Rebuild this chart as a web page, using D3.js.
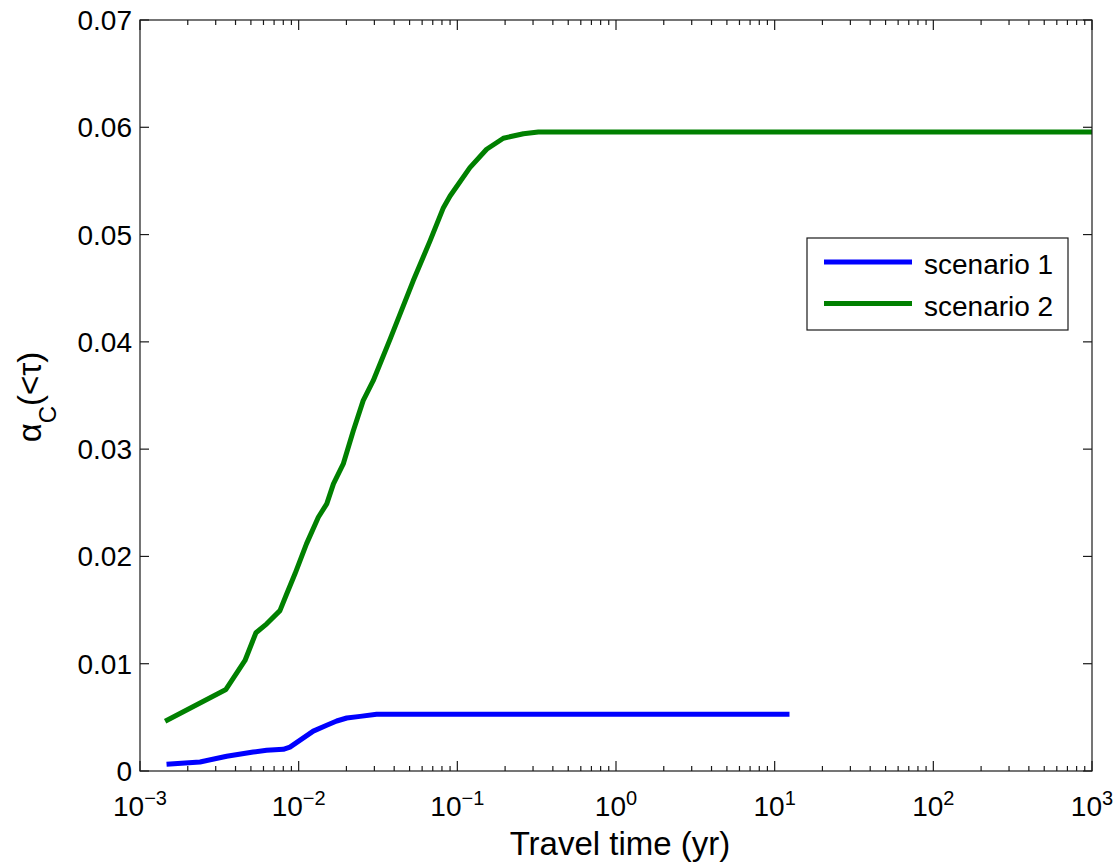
<!DOCTYPE html>
<html>
<head>
<meta charset="utf-8">
<script src="https://cdn.jsdelivr.net/npm/d3@7"></script>
<style>
  body { margin: 0; background: white; }
  text { font-family: "Liberation Sans", Arial, Helvetica, sans-serif; }
</style>
</head>
<body>
<div id="container"></div>
<script>
let w = 1118;
let h = 865;

// data
let scenarioNames = ["scenario 1", "scenario 2"];
let scenarioColors = ["#0000ff", "#008000"];

let s1Time = [0.00147, 0.00239, 0.00352, 0.00517, 0.00628, 0.0080, 0.00881, 0.01236, 0.01502, 0.01737, 0.0201, 0.0244, 0.0310, 12.4];
let s1Value = [0.00062, 0.00084, 0.00137, 0.00177, 0.00193, 0.00202, 0.00223, 0.00372, 0.00426, 0.00466, 0.00494, 0.00509, 0.00528, 0.00528];

let s2Time = [0.00144, 0.00348, 0.00459, 0.00538, 0.00629, 0.00762, 0.0084, 0.00948, 0.0112, 0.0133, 0.01503, 0.01656, 0.0191, 0.0221, 0.0255, 0.0295, 0.0377, 0.0527, 0.0673, 0.0817, 0.0900, 0.120, 0.153, 0.195, 0.261, 0.324, 1000];
let s2Value = [0.00463, 0.0076, 0.0103, 0.01289, 0.01372, 0.01495, 0.0165, 0.01838, 0.02117, 0.02365, 0.0249, 0.02676, 0.02862, 0.03172, 0.03452, 0.03638, 0.04026, 0.04569, 0.04941, 0.05251, 0.0536, 0.05624, 0.05795, 0.05898, 0.0594, 0.05956, 0.05956];

let yTicks = [0, 0.01, 0.02, 0.03, 0.04, 0.05, 0.06, 0.07];
let xDecades = [-3, -2, -1, 0, 1, 2, 3];

let pLeft = 140, pRight = 1092, pTop = 20, pBottom = 771;

let viz = d3.select("#container")
  .append("svg")
    .attr("width", w)
    .attr("height", h)
    .style("background-color", "white")
;

let x = d3.scaleLog().domain([1e-3, 1e3]).range([pLeft, pRight]);
let y = d3.scaleLinear().domain([0, 0.07]).range([pBottom, pTop]);

// minor ticks on the log axis
let minorTicks = [];
xDecades.slice(0, -1).forEach(function(e){
  for (let k = 2; k <= 9; k++) minorTicks.push(k * Math.pow(10, e));
});
let majorTicks = xDecades.map(e => Math.pow(10, e));

let axisColor = "#1a1a1a";

function drawXTicks(yPos, dir){
  viz.selectAll(null)
    .data(minorTicks)
    .enter()
    .append("line")
      .attr("x1", d => x(d)).attr("x2", d => x(d))
      .attr("y1", yPos).attr("y2", yPos + dir * 5)
      .style("stroke", axisColor)
      .style("stroke-width", 1.2)
  ;
  viz.selectAll(null)
    .data(majorTicks)
    .enter()
    .append("line")
      .attr("x1", d => x(d)).attr("x2", d => x(d))
      .attr("y1", yPos).attr("y2", yPos + dir * 10)
      .style("stroke", axisColor)
      .style("stroke-width", 1.2)
  ;
}
drawXTicks(pBottom, -1);
drawXTicks(pTop, 1);

function drawYTicks(xPos, dir){
  viz.selectAll(null)
    .data(yTicks)
    .enter()
    .append("line")
      .attr("x1", xPos).attr("x2", xPos + dir * 9)
      .attr("y1", d => y(d)).attr("y2", d => y(d))
      .style("stroke", axisColor)
      .style("stroke-width", 1.2)
  ;
}
drawYTicks(pLeft, 1);
drawYTicks(pRight, -1);

// lines
let line = d3.line()
  .x(d => x(d[0]))
  .y(d => y(d[1]))
;

let series = [
  d3.zip(s1Time, s1Value),
  d3.zip(s2Time, s2Value)
];

viz.selectAll(".series")
  .data(series)
  .enter()
  .append("path")
    .attr("class", "series")
    .attr("d", line)
    .attr("fill", "none")
    .style("stroke", (d, i) => scenarioColors[i])
    .style("stroke-width", 5)
    .style("stroke-linejoin", "round")
;

// box
viz.append("rect")
    .attr("x", pLeft)
    .attr("y", pTop)
    .attr("width", pRight - pLeft)
    .attr("height", pBottom - pTop)
    .attr("fill", "none")
    .style("stroke", axisColor)
    .style("stroke-width", 1.2)
;

// y tick labels
viz.selectAll(".ylab")
  .data(yTicks)
  .enter()
  .append("text")
    .attr("class", "ylab")
    .text(d => d === 0 ? "0" : d.toFixed(2))
    .attr("x", pLeft - 8)
    .attr("y", d => y(d) + 10)
    .attr("text-anchor", "end")
    .attr("fill", "black")
    .style("font-size", "28px")
;

// x tick labels 10^n
let xLab = viz.selectAll(".xlab")
  .data(xDecades)
  .enter()
  .append("text")
    .attr("class", "xlab")
    .attr("x", d => x(Math.pow(10, d)))
    .attr("y", 816)
    .attr("text-anchor", "middle")
    .attr("fill", "black")
    .style("font-size", "28px")
;
xLab.append("tspan").text("10");
xLab.append("tspan")
    .text(d => d < 0 ? "\u2212" + Math.abs(d) : d)
    .attr("dy", -11)
    .style("font-size", "20px")
;

// axis titles
viz.append("text")
    .text("Travel time (yr)")
    .attr("x", 620)
    .attr("y", 855)
    .attr("text-anchor", "middle")
    .attr("fill", "black")
    .style("font-size", "33px")
;

let yTitle = viz.append("text")
    .attr("transform", "translate(41,397) rotate(-90)")
    .attr("text-anchor", "middle")
    .attr("fill", "black")
    .style("font-size", "33px")
;
yTitle.append("tspan").text("\u03b1");
yTitle.append("tspan").text("C").attr("dy", 15).style("font-size", "24px");
yTitle.append("tspan").text("(<\u03c4)").attr("dy", -15);

// legend
let legend = viz.append("g")
    .attr("transform", "translate(807,238)")
;
legend.append("rect")
    .attr("width", 261)
    .attr("height", 92)
    .attr("fill", "white")
    .style("stroke", axisColor)
    .style("stroke-width", 1.2)
;
let legItem = legend.selectAll(".legItem")
  .data(scenarioNames)
  .enter()
  .append("g")
    .attr("class", "legItem")
    .attr("transform", (d, i) => "translate(0," + (24 + i * 41.6) + ")")
;
legItem.append("line")
    .attr("x1", 17).attr("x2", 105)
    .attr("y1", 0).attr("y2", 0)
    .style("stroke", (d, i) => scenarioColors[i])
    .style("stroke-width", 5)
;
legItem.append("text")
    .text(d => d)
    .attr("x", 117)
    .attr("y", 12)
    .attr("fill", "black")
    .style("font-size", "28px")
;
</script>
</body>
</html>
